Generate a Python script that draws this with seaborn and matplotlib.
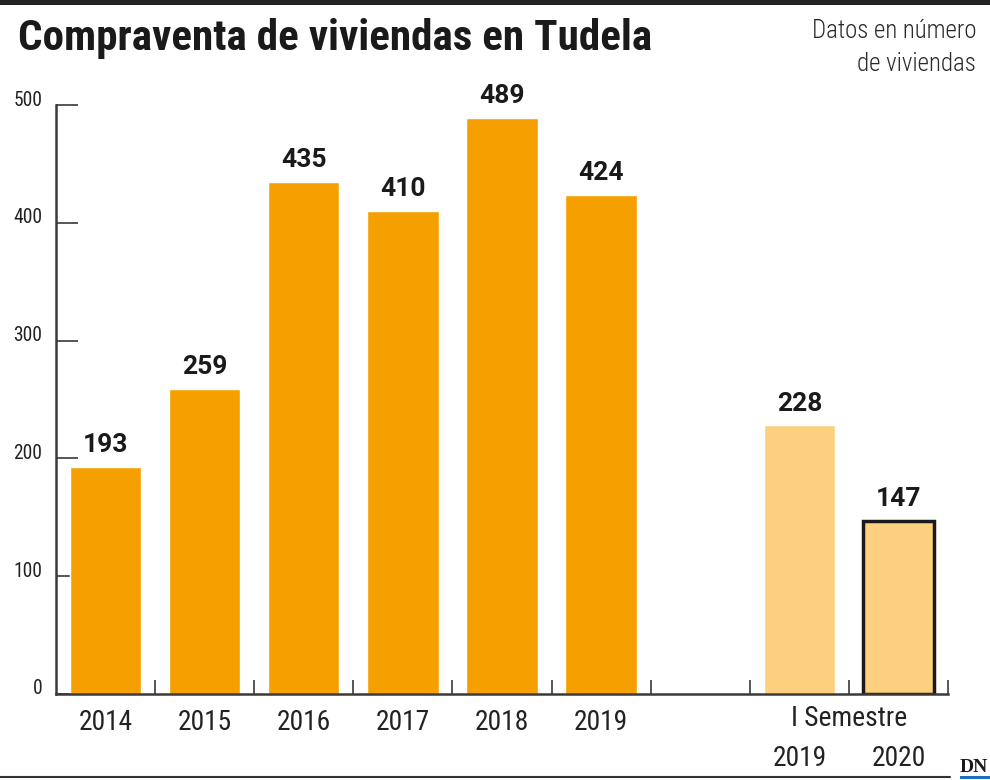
import matplotlib
matplotlib.use("Agg")
import matplotlib.pyplot as plt
import matplotlib.transforms as mtransforms
from matplotlib.lines import Line2D
from matplotlib.patches import Rectangle
from matplotlib.font_manager import FontProperties, fontManager
import seaborn as sns
import pandas as pd

# ---- data ----
categories = ["2014", "2015", "2016", "2017", "2018", "2019", "I Sem 2019", "I Sem 2020"]
values = [193, 259, 435, 410, 489, 424, 228, 147]
slot_order = ["2014", "2015", "2016", "2017", "2018", "2019", "gap", "I Sem 2019", "I Sem 2020"]
tick_labels = ["2014", "2015", "2016", "2017", "2018", "2019", "", "2019", "2020"]
y_ticks = [0, 100, 200, 300, 400, 500]

ORANGE = "#F5A000"
LIGHT = "#FCD07F"
colors = {c: (LIGHT if c.startswith("I Sem") else ORANGE) for c in categories}

sns.set_theme(style="white")
plt.rcParams["font.family"] = ["DejaVu Sans"]


# ---- find a condensed font if one exists ----
def find_condensed(target):
    best = None
    for f in fontManager.ttflist:
        fn = f.fname.lower()
        cond = ("condensed" in fn or "narrow" in fn or
                f.stretch in ("condensed", "semi-condensed", "extra-condensed"))
        if not cond or f.style != "normal":
            continue
        if "serif" in f.name.lower() and "sans" not in f.name.lower():
            continue
        if "mono" in f.name.lower() or "mono" in fn:
            continue
        w = f.weight if isinstance(f.weight, int) else 400
        score = abs(w - target)
        if "extra" in fn or "ultra" in fn or "semi" in fn:
            score += 50
        for pref, bonus in (("roboto", 0), ("liberation", 1), ("noto", 2), ("dejavu", 3)):
            if pref in fn:
                score += bonus
                break
        else:
            score += 5
        if best is None or score < best[0]:
            best = (score, f.fname)
    return best[1] if best else None


reg_file = find_condensed(400)
bold_file = find_condensed(700)
light_file = find_condensed(300)
FP_REG = FontProperties(fname=reg_file) if reg_file else FontProperties(family="DejaVu Sans")
FP_BOLD = FontProperties(fname=bold_file) if bold_file else FontProperties(family="DejaVu Sans", weight="bold")
FP_LIGHT = FontProperties(fname=light_file) if light_file else FP_REG

df = pd.DataFrame({"cat": categories, "val": values})

fig = plt.figure(figsize=(9.9, 7.8), dpi=100)
ax = fig.add_axes([56 / 990, 1 - 694 / 780, (948 - 56) / 990, (694 - 105) / 780])

sns.barplot(data=df, x="cat", y="val", order=slot_order, hue="cat", palette=colors,
            legend=False, width=0.72, ax=ax, saturation=1)

for p in ax.patches:
    if abs(p.get_height() - 147) < 1e-6:
        p.set_edgecolor("#1a1a1a")
        p.set_linewidth(2.5)

ax.set_xlim(-0.5, 8.5)
ax.set_ylim(0, 500)
ax.set_xlabel("")
ax.set_ylabel("")

# value labels
for i, c in enumerate(slot_order):
    if c in categories:
        v = values[categories.index(c)]
        ax.annotate(str(v), (i, v), xytext=(0, 10.5), textcoords="offset points",
                    ha="center", va="baseline", fontsize=19, fontweight="bold",
                    family=["Roboto", "DejaVu Sans"], color="#1a1a1a")

for s in ["top", "right"]:
    ax.spines[s].set_visible(False)
for s in ["left", "bottom"]:
    ax.spines[s].set_color("#3a3a3a")
    ax.spines[s].set_linewidth(1.8)


def fit(fp, size, text, target_px, max_up=1.1):
    """Return a copy of fp sized so that text is about target_px wide."""
    p = fp.copy()
    p.set_size(size)
    t = fig.text(0, 0, text, fontproperties=p)
    w = t.get_window_extent(renderer=fig.canvas.get_renderer()).width
    t.remove()
    r = min(target_px / w, max_up)
    p.set_size(size * r)
    return p


# y ticks
ax.set_yticks(y_ticks)
ax.set_yticklabels([str(t) for t in y_ticks])
ax.tick_params(axis="y", direction="in", length=16, width=1.2, color="#3a3a3a",
               pad=10, labelcolor="#222222", left=True)
fp_y = fit(FP_REG, 16, "500", 29)
off = mtransforms.ScaledTranslation(0, 7 / 100, fig.dpi_scale_trans)
for lab in ax.get_yticklabels():
    lab.set_fontproperties(fp_y)
    lab.set_transform(lab.get_transform() + off)

# x ticks
ax.set_xticks([i + 0.5 for i in range(len(slot_order))])
ax.set_xticklabels([])
ax.tick_params(axis="x", which="major", direction="in", length=10, width=1.2,
               color="#3a3a3a", bottom=True)
ax.set_xticks(list(range(len(slot_order))), minor=True)
ax.set_xticklabels(tick_labels, minor=True)
ax.tick_params(axis="x", which="minor", length=0, pad=11, labelcolor="#222222")
fp_x = fit(FP_REG, 20, "I Semestre", 116, max_up=1.12)
down = mtransforms.ScaledTranslation(0, -36 / 100, fig.dpi_scale_trans)
for i, lab in enumerate(ax.get_xticklabels(minor=True)):
    lab.set_fontproperties(fp_x)
    if i >= 7:
        lab.set_transform(lab.get_transform() + down)

ax.text(7.5, 1 - 719 / 780, "I Semestre",
        transform=mtransforms.blended_transform_factory(ax.transData, fig.transFigure),
        ha="center", va="center", fontproperties=fp_x, color="#222222")

# title and note
fp_t = fit(FP_BOLD, 28, "Compraventa de viviendas en Tudela", 654, max_up=1.11)
fig.text(18 / 990, 1 - 50 / 780, "Compraventa de viviendas en Tudela", ha="left",
         va="baseline", fontproperties=fp_t, color="#1a1a1a")
fp_n = fit(FP_LIGHT, 16, "Datos en número", 182, max_up=1.12)
fig.text(976 / 990, 1 - 38 / 780, "Datos en número", ha="right", va="baseline",
         fontproperties=fp_n, color="#2a2a2a")
fig.text(976 / 990, 1 - 71 / 780, "de viviendas", ha="right", va="baseline",
         fontproperties=fp_n, color="#2a2a2a")

# decorations
fig.add_artist(Rectangle((0, 1 - 5 / 780), 1, 5 / 780, transform=fig.transFigure,
                         color="#222222", lw=0))
fig.add_artist(Line2D([0, 950 / 990], [1 - 777 / 780] * 2, transform=fig.transFigure,
                      color="#333333", lw=1.5))
fig.text(960 / 990, 1 - 772 / 780, "DN", ha="left", va="baseline", fontsize=14,
         fontweight="bold", family=["Liberation Serif", "DejaVu Serif"], color="#1a1a1a")
fig.add_artist(Rectangle((960 / 990, 1 - 779 / 780), 30 / 990, 3 / 780,
                         transform=fig.transFigure, color="#1f6fc0", lw=0))

fig.savefig("out.png", dpi=100)
